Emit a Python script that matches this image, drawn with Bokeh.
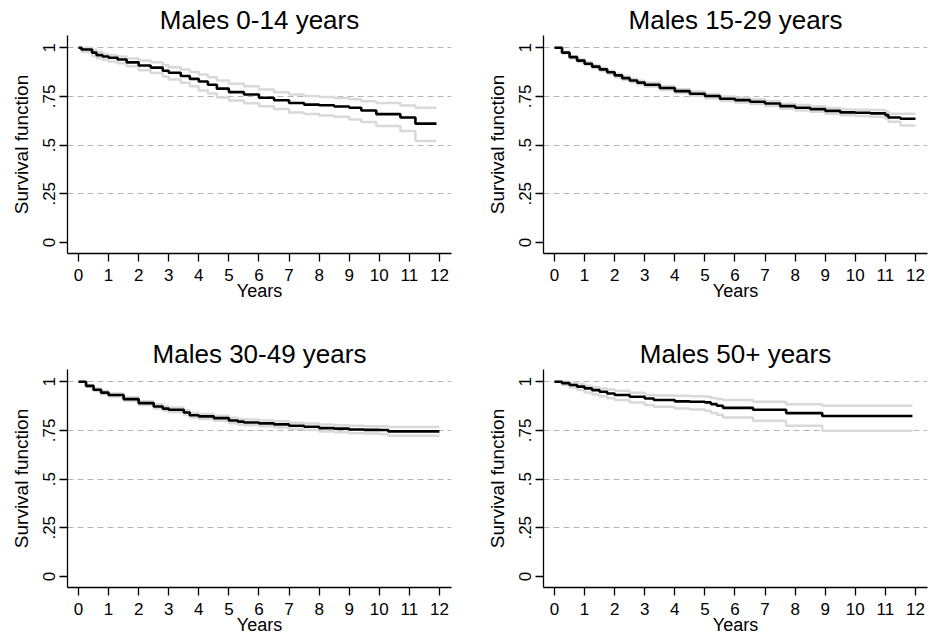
from bokeh.plotting import figure
from bokeh.layouts import column, row
from bokeh.models import Range1d, FixedTicker
from bokeh.embed import file_html
from bokeh.resources import INLINE

FONT = "Liberation Sans"

titles = ["Males 0-14 years", "Males 15-29 years", "Males 30-49 years", "Males 50+ years"]
x_ticks = list(range(0, 13))
y_ticks = [0, 0.25, 0.5, 0.75, 1]
y_tick_labels = ["0", ".25", ".5", ".75", "1"]

# Males 0-14
t_a = [0, 0.1, 0.45, 0.6, 0.8, 1.0, 1.3, 1.6, 2.0, 2.4, 2.8, 3.0, 3.4, 3.7, 4.0, 4.3, 4.6, 5.0, 5.5,
       6.0, 6.5, 7.0, 7.5, 8.0, 8.5, 9.0, 9.4, 9.9, 10.7, 11.2, 11.9]
s_a = [1.0, 0.991, 0.975, 0.962, 0.955, 0.949, 0.940, 0.925, 0.909, 0.898, 0.882, 0.872, 0.855, 0.840,
       0.827, 0.810, 0.790, 0.772, 0.760, 0.743, 0.730, 0.716, 0.708, 0.705, 0.698, 0.692, 0.678, 0.659,
       0.642, 0.610, 0.610]
hi_a = [1.0, 1.0, 0.990, 0.978, 0.968, 0.961, 0.955, 0.945, 0.935, 0.925, 0.910, 0.900, 0.888, 0.875,
        0.863, 0.848, 0.832, 0.815, 0.802, 0.786, 0.772, 0.760, 0.752, 0.747, 0.742, 0.735, 0.725, 0.716,
        0.704, 0.692, 0.692]
lo_a = [1.0, 0.978, 0.958, 0.946, 0.938, 0.930, 0.920, 0.905, 0.884, 0.870, 0.852, 0.837, 0.820, 0.802,
        0.781, 0.765, 0.745, 0.729, 0.715, 0.699, 0.685, 0.668, 0.660, 0.652, 0.645, 0.632, 0.618, 0.598,
        0.572, 0.521, 0.521]

# Males 15-29
t_b = [0, 0.25, 0.5, 0.75, 1.0, 1.25, 1.5, 1.75, 2.0, 2.25, 2.5, 2.75, 3.0, 3.5, 4.0, 4.5, 5.0, 5.5,
       6.0, 6.5, 7.0, 7.5, 8.0, 8.5, 9.0, 9.5, 10.0, 10.5, 11.0, 11.1, 11.5, 12.0]
s_b = [1.0, 0.975, 0.952, 0.934, 0.918, 0.903, 0.889, 0.874, 0.858, 0.844, 0.832, 0.821, 0.810, 0.793,
       0.777, 0.764, 0.752, 0.738, 0.731, 0.723, 0.714, 0.700, 0.692, 0.685, 0.676, 0.668, 0.666, 0.663,
       0.654, 0.642, 0.635, 0.635]
hi_b = [1.0, 0.980, 0.958, 0.941, 0.925, 0.911, 0.897, 0.882, 0.867, 0.853, 0.841, 0.831, 0.820, 0.803,
        0.787, 0.775, 0.763, 0.749, 0.743, 0.735, 0.727, 0.713, 0.706, 0.699, 0.691, 0.683, 0.682, 0.680,
        0.672, 0.661, 0.661, 0.661]
lo_b = [1.0, 0.970, 0.946, 0.927, 0.911, 0.895, 0.881, 0.866, 0.849, 0.835, 0.823, 0.811, 0.800, 0.783,
        0.767, 0.753, 0.741, 0.727, 0.719, 0.711, 0.701, 0.687, 0.678, 0.671, 0.661, 0.653, 0.650, 0.646,
        0.636, 0.620, 0.600, 0.600]

# Males 30-49
t_c = [0, 0.25, 0.5, 0.75, 1.0, 1.5, 2.0, 2.5, 2.8, 3.0, 3.5, 3.7, 4.0, 4.5, 5.0, 5.3, 5.5, 6.0, 6.5,
       7.0, 7.5, 8.0, 8.5, 9.0, 9.5, 10.0, 10.3, 12.0]
s_c = [1.0, 0.979, 0.959, 0.944, 0.932, 0.911, 0.890, 0.873, 0.862, 0.856, 0.842, 0.828, 0.822, 0.813,
       0.801, 0.795, 0.791, 0.786, 0.781, 0.774, 0.769, 0.762, 0.759, 0.755, 0.753, 0.752, 0.745, 0.745]
hi_c = [1.0, 0.984, 0.966, 0.952, 0.940, 0.920, 0.900, 0.884, 0.873, 0.868, 0.854, 0.840, 0.835, 0.826,
        0.815, 0.809, 0.806, 0.801, 0.797, 0.790, 0.786, 0.780, 0.777, 0.774, 0.772, 0.772, 0.767, 0.767]
lo_c = [1.0, 0.974, 0.952, 0.936, 0.924, 0.902, 0.880, 0.862, 0.851, 0.844, 0.830, 0.816, 0.809, 0.800,
        0.787, 0.781, 0.776, 0.771, 0.765, 0.758, 0.752, 0.744, 0.741, 0.736, 0.734, 0.732, 0.722, 0.722]

# Males 50+
t_d = [0, 0.25, 0.5, 0.75, 1.0, 1.25, 1.5, 1.75, 2.0, 2.5, 3.0, 3.3, 4.0, 4.5, 5.0, 5.2, 5.4, 5.6,
       6.6, 7.7, 8.9, 11.9]
s_d = [1.0, 0.993, 0.983, 0.975, 0.966, 0.957, 0.949, 0.940, 0.932, 0.923, 0.914, 0.906, 0.899, 0.897,
       0.894, 0.885, 0.877, 0.866, 0.856, 0.839, 0.824, 0.824]
hi_d = [1.0, 1.0, 0.995, 0.988, 0.979, 0.972, 0.966, 0.960, 0.954, 0.943, 0.932, 0.930, 0.928, 0.926,
        0.923, 0.917, 0.912, 0.906, 0.897, 0.885, 0.877, 0.877]
lo_d = [1.0, 0.984, 0.971, 0.958, 0.945, 0.935, 0.926, 0.915, 0.906, 0.893, 0.880, 0.871, 0.863, 0.858,
        0.851, 0.840, 0.830, 0.817, 0.800, 0.774, 0.748, 0.748]


def panel(title, t, s, lo, hi, width, height, bl, br, bt, bb):
    p = figure(width=width, height=height, output_backend="svg", toolbar_location=None,
               x_range=Range1d(-0.366, 12.4), y_range=Range1d(-0.057, 1.063),
               min_border_left=bl, min_border_right=br, min_border_top=bt, min_border_bottom=bb,
               background_fill_color="white", border_fill_color="white")
    p.outline_line_color = None
    p.title.text = title
    p.title.align = "center"
    p.title.text_font = FONT
    p.title.text_font_size = "26px"
    p.title.text_font_style = "normal"
    p.title.text_color = "black"
    p.title.standoff = 2

    p.step(t, hi, mode="after", line_color="#d9d9d9", line_width=2.5)
    p.step(t, lo, mode="after", line_color="#d9d9d9", line_width=2.5)
    p.step(t, s, mode="after", line_color="black", line_width=2.6)

    p.xgrid.visible = False
    p.ygrid.ticker = FixedTicker(ticks=[0.25, 0.5, 0.75, 1])
    p.ygrid.grid_line_color = "#b4b4b4"
    p.ygrid.grid_line_dash = "6 4"
    p.ygrid.grid_line_width = 1

    xa = p.xaxis[0]
    ya = p.yaxis[0]
    for ax in (xa, ya):
        ax.axis_line_color = "black"
        ax.axis_line_width = 1.3
        ax.major_tick_line_color = "black"
        ax.major_tick_line_width = 1.3
        ax.major_tick_in = 0
        ax.major_tick_out = 8
        ax.minor_tick_line_color = None
        ax.major_label_text_color = "black"
        ax.axis_label_text_color = "black"
        ax.axis_label_text_font_style = "normal"

    xa.ticker = FixedTicker(ticks=x_ticks)
    xa.axis_label = "Years"
    xa.axis_label_text_font = FONT
    xa.axis_label_text_font_size = "18px"
    xa.major_label_text_font = FONT
    xa.major_label_text_font_size = "17px"
    xa.major_label_standoff = 7
    xa.axis_label_standoff = -3

    ya.ticker = FixedTicker(ticks=y_ticks)
    ya.major_label_overrides = {v: l for v, l in zip(y_ticks, y_tick_labels)}
    ya.major_label_orientation = "vertical"
    ya.axis_label = "Survival function"
    ya.axis_label_text_font = FONT
    ya.axis_label_text_font_size = "19px"
    ya.major_label_text_font = FONT
    ya.major_label_text_font_size = "17px"
    ya.major_label_standoff = 4
    ya.axis_label_standoff = 9
    return p


p1 = panel(titles[0], t_a, s_a, lo_a, hi_a, 476, 318, 67, 25, 35, 65)
p2 = panel(titles[1], t_b, s_b, lo_b, hi_b, 453, 318, 67, 2, 35, 65)
p3 = panel(titles[2], t_c, s_c, lo_c, hi_c, 476, 319, 67, 25, 51, 50)
p4 = panel(titles[3], t_d, s_d, lo_d, hi_d, 453, 319, 67, 2, 51, 50)

layout = column(row(p1, p2, spacing=0), row(p3, p4, spacing=0), spacing=0)

open("out.html", "w").write(file_html(layout, INLINE))
